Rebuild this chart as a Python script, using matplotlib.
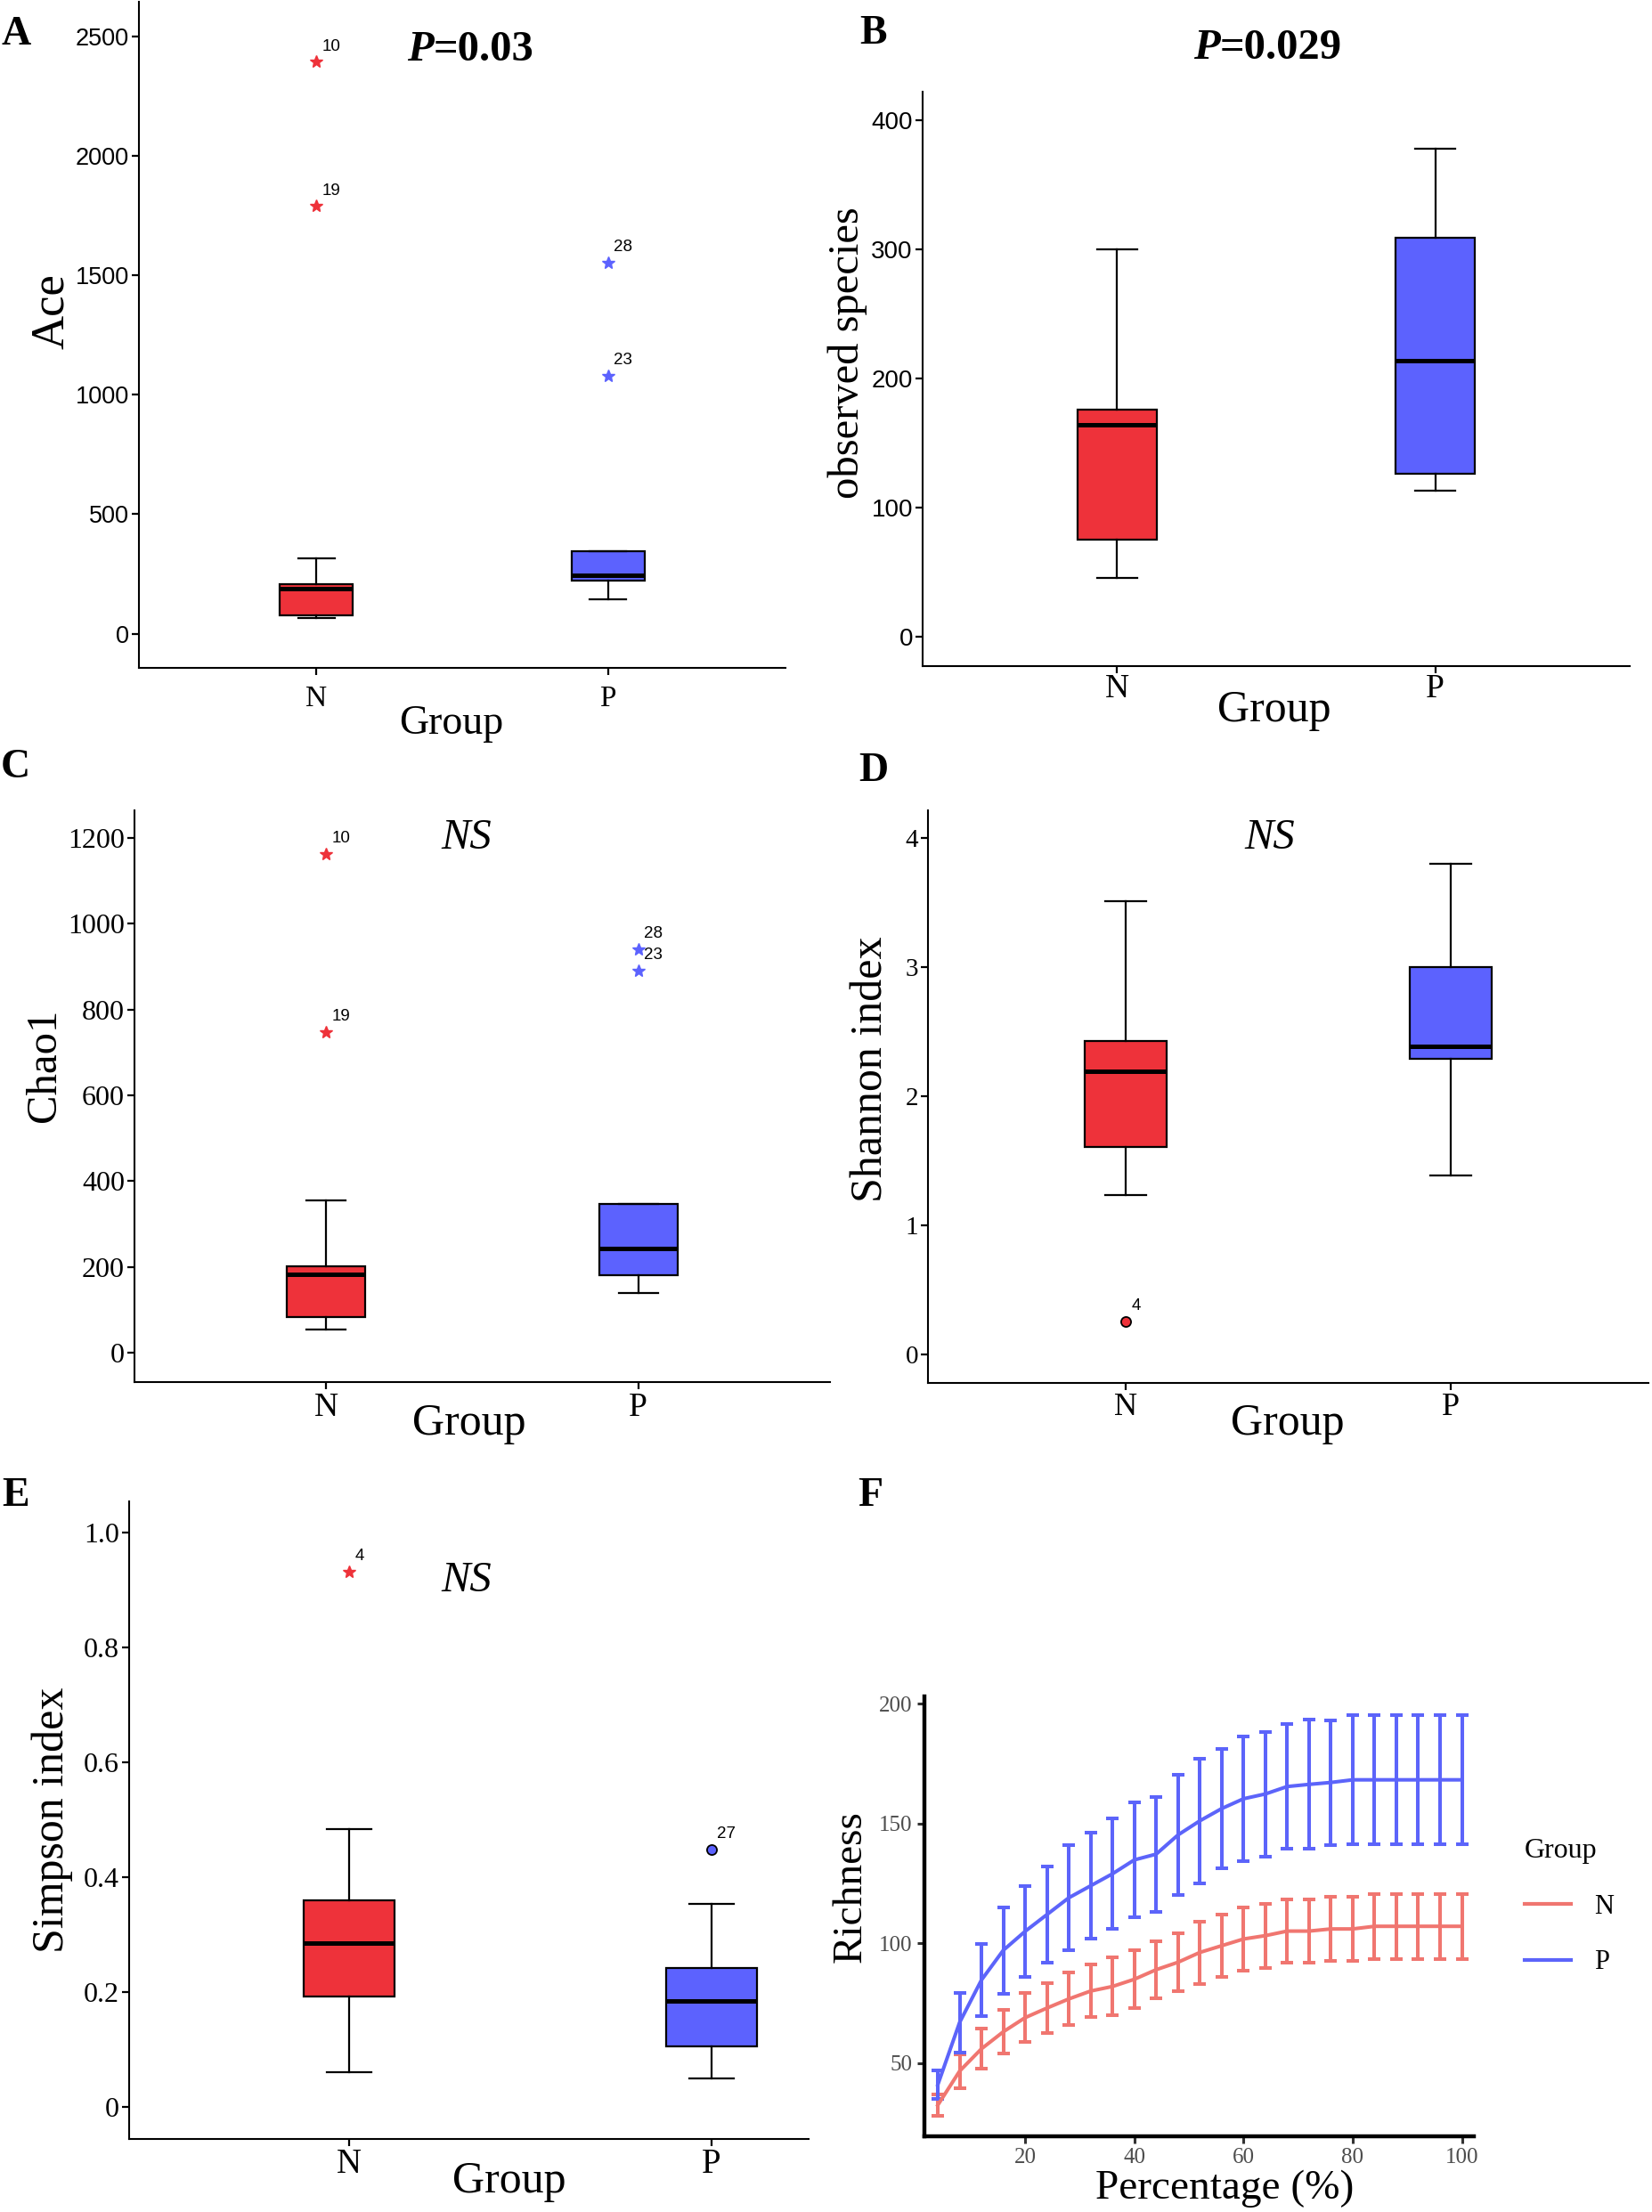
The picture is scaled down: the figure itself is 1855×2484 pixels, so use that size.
#!/usr/bin/env python3

import matplotlib
matplotlib.use("Agg")
import matplotlib.pyplot as plt
from matplotlib.lines import Line2D

W, H = 1856, 2484

groups = ["N", "P"]

# five-number summaries: low whisker, Q1, median, Q3, high whisker
ace_n = [67, 77, 190, 206, 317]
ace_p = [143, 224, 246, 345, 345]
ace_out_grp = ["N", "N", "P", "P"]
ace_out_val = [2393, 1789, 1551, 1078]
ace_out_id = ["10", "19", "28", "23"]
ace_out_kind = ["extreme", "extreme", "extreme", "extreme"]

obs_n = [45.6, 75.5, 164.5, 176, 300]
obs_p = [113, 126, 214, 309, 378]

chao_n = [54, 84, 183.5, 202, 355]
chao_p = [139, 180, 243, 347, 347]
chao_out_grp = ["N", "N", "P", "P"]
chao_out_val = [1163, 747, 940, 890]
chao_out_id = ["10", "19", "28", "23"]
chao_out_kind = ["extreme", "extreme", "extreme", "extreme"]

shannon_n = [1.238, 1.61, 2.195, 2.43, 3.51]
shannon_p = [1.39, 2.29, 2.39, 3.0, 3.80]
shannon_out_grp = ["N"]
shannon_out_val = [0.256]
shannon_out_id = ["4"]
shannon_out_kind = ["outlier"]

simpson_n = [0.060, 0.192, 0.285, 0.359, 0.484]
simpson_p = [0.049, 0.105, 0.185, 0.242, 0.354]
simpson_out_grp = ["N", "P"]
simpson_out_val = [0.932, 0.448]
simpson_out_id = ["4", "27"]
simpson_out_kind = ["extreme", "outlier"]

# rarefaction curves
pct = [4, 8, 12, 16, 20, 24, 28, 32, 36, 40, 44, 48, 52,
       56, 60, 64, 68, 72, 76, 80, 84, 88, 92, 96, 100]
rich_n = [32.5, 46.7, 56, 63.1, 69, 73, 76.8, 80.1, 82, 85, 89, 92.1, 96.2,
          99, 101.8, 103.2, 105.1, 105.1, 106, 106, 107.1, 107.1, 107.1, 107.1, 107.1]
rich_n_err = [4.5, 7, 8.3, 9.2, 10.2, 10.3, 11, 11, 12, 12, 12, 12, 13,
              13, 13.3, 13.4, 13.3, 13.3, 13.5, 13.5, 13.5, 13.5, 13.5, 13.5, 13.5]
rich_p = [41, 67, 84.7, 97.1, 105, 112, 119, 124, 129, 134.8, 137.2, 145.2, 151.1,
          156.2, 160.3, 162.3, 165.4, 166.3, 167.1, 168.2, 168.2, 168.2, 168.2, 168.2, 168.2]
rich_p_err = [6, 12.4, 15, 18, 19, 20, 22, 22, 23, 24, 24, 25, 26,
              25, 26, 26, 26, 27, 26, 27, 27, 27, 27, 27, 27]

BOX_COLORS = {"N": "#EE323A", "P": "#5C62FE"}
LINE_COLORS = {"N": "#F07670", "P": "#5C64FA"}

SERIF = "Liberation Serif"
SANS = "Liberation Sans"

plt.rcParams["font.family"] = SERIF


def fx(x):
    return x / W


def fy(y):
    return 1 - y / H


def px_axes(fig, left, top, right, bottom):
    return fig.add_axes([left / W, 1 - bottom / H, (right - left) / W, (bottom - top) / H])


def box_panel(ax, n, p, xlim, ylim, yticks, yticklabels, tick_family, tick_size, xtick_size, xpad,
              out_grp=(), out_val=(), out_id=(), out_kind=()):
    stats = []
    for g, v in zip(groups, [n, p]):
        stats.append(dict(whislo=v[0], q1=v[1], med=v[2], q3=v[3], whishi=v[4], label=g))
    arts = ax.bxp(stats, positions=[1, 2], widths=0.25, capwidths=0.125, patch_artist=True,
                  showfliers=False,
                  boxprops=dict(edgecolor="black", linewidth=1.6),
                  medianprops=dict(color="black", linewidth=3.6),
                  whiskerprops=dict(color="black", linewidth=1.6),
                  capprops=dict(color="black", linewidth=1.6))
    for patch, g in zip(arts["boxes"], groups):
        patch.set_facecolor(BOX_COLORS[g])

    for g, v, i, k in zip(out_grp, out_val, out_id, out_kind):
        xpos = groups.index(g) + 1
        if k == "extreme":
            ax.plot(xpos, v, marker="*", ms=10, color=BOX_COLORS[g], mec=BOX_COLORS[g], ls="none")
        else:
            ax.plot(xpos, v, marker="o", ms=8, color=BOX_COLORS[g], mec="black", mew=1.3, ls="none")
        ax.annotate(i, (xpos, v), xytext=(4.5, 12.5), textcoords="offset points",
                    family=SANS, fontsize=13.5, ha="left", va="center")

    ax.set_xlim(*xlim)
    ax.set_ylim(*ylim)
    ax.set_xticks([1, 2], groups)
    ax.set_yticks(yticks, yticklabels)
    for s in ["top", "right"]:
        ax.spines[s].set_visible(False)
    for s in ["left", "bottom"]:
        ax.spines[s].set_linewidth(1.5)
    ax.tick_params(axis="both", length=6, width=1.6, color="black")
    ax.tick_params(axis="y", labelfontfamily=tick_family, labelsize=tick_size, pad=2)
    ax.tick_params(axis="x", labelfontfamily=SERIF, labelsize=xtick_size, pad=xpad)


def main():
    fig = plt.figure(figsize=(W / 100, H / 100), dpi=100)

    # A: Ace
    ax_a = px_axes(fig, 156, 2, 882, 750)
    box_panel(ax_a, ace_n, ace_p, (0.391, 2.609), (-143, 2644),
              [0, 500, 1000, 1500, 2000, 2500], ["0", "500", "1000", "1500", "2000", "2500"],
              SANS, 19.5, 24, 8,
              ace_out_grp, ace_out_val, ace_out_id, ace_out_kind)

    # B: observed species
    ax_b = px_axes(fig, 1036, 103, 1830, 748)
    box_panel(ax_b, obs_n, obs_p, (0.388, 2.612), (-22.8, 422.4),
              [0, 100, 200, 300, 400], ["0", "100", "200", "300", "400"],
              SANS, 20, 27, 0)

    # C: Chao1
    ax_c = px_axes(fig, 151, 910, 932, 1552)
    box_panel(ax_c, chao_n, chao_p, (0.386, 2.614), (-68.5, 1264),
              [0, 200, 400, 600, 800, 1000, 1200],
              ["0", "200", "400", "600", "800", "1000", "1200"],
              SERIF, 23, 27, 2,
              chao_out_grp, chao_out_val, chao_out_id, chao_out_kind)

    # D: Shannon
    ax_d = px_axes(fig, 1042, 910, 1851, 1553)
    box_panel(ax_d, shannon_n, shannon_p, (0.392, 2.608), (-0.22, 4.214),
              [0, 1, 2, 3, 4], ["0", "1", "2", "3", "4"],
              SERIF, 21, 26, 2,
              shannon_out_grp, shannon_out_val, shannon_out_id, shannon_out_kind)

    # E: Simpson
    ax_e = px_axes(fig, 145, 1686, 908, 2402)
    box_panel(ax_e, simpson_n, simpson_p, (0.393, 2.268), (-0.056, 1.054),
              [0, 0.2, 0.4, 0.6, 0.8, 1.0], ["0", "0.2", "0.4", "0.6", "0.8", "1.0"],
              SERIF, 23, 28, 1,
              simpson_out_grp, simpson_out_val, simpson_out_id, simpson_out_kind)

    # F: rarefaction
    ax_f = px_axes(fig, 1038, 1905, 1655, 2399)
    for g, mean, err in [("N", rich_n, rich_n_err), ("P", rich_p, rich_p_err)]:
        ax_f.errorbar(pct, mean, yerr=err, color=LINE_COLORS[g], lw=2.9, elinewidth=2.9,
                      capsize=4.7, capthick=2.9)
    ax_f.set_xlim(1.55, 102.2)
    ax_f.set_ylim(19.5, 203)
    ax_f.set_xticks([20, 40, 60, 80, 100])
    ax_f.set_yticks([50, 100, 150, 200])
    for s in ["top", "right"]:
        ax_f.spines[s].set_visible(False)
    for s in ["left", "bottom"]:
        ax_f.spines[s].set_linewidth(3.2)
    ax_f.tick_params(axis="both", length=5.5, width=2.2, color="#333333",
                     labelcolor="#4D4D4D", labelsize=18, pad=4)
    handles = [Line2D([], [], color=LINE_COLORS[g], lw=3) for g in groups]
    ax_f.legend(handles, groups, title="Group", loc="upper left",
                bbox_to_anchor=(fx(1712), fy(2064)), bbox_transform=fig.transFigure,
                frameon=False, fontsize=22, title_fontsize=23, alignment="left",
                handlelength=1.7, handletextpad=0.85, labelspacing=1.1,
                borderpad=0, borderaxespad=0)

    # significance labels
    for ax, x_right, base, txt in [(ax_a, 487, 68, "=0.03"), (ax_b, 1370, 66, "=0.029")]:
        t = fig.text(fx(x_right), fy(base), "P", fontsize=35, fontweight="bold",
                     fontstyle="italic", ha="right", va="baseline")
        ax.annotate(txt, xy=(1, 0), xycoords=t, fontsize=35, fontweight="bold",
                    ha="left", va="bottom")
    for x, y in [(524, 941), (1426, 941), (524, 1775)]:
        fig.text(fx(x), fy(y), "NS", fontsize=35, fontstyle="italic", ha="center", va="center")

    # panel letters
    for letter, x, y in [("A", 18, 39), ("B", 980, 38), ("C", 17, 862),
                         ("D", 981, 866), ("E", 18, 1680), ("F", 977, 1680)]:
        fig.text(fx(x), fy(y), letter, fontsize=33, fontweight="bold", ha="center", va="center")

    # axis titles
    for txt, x, y, size in [("Ace", 58, 350, 38), ("observed species", 952, 396, 35),
                            ("Chao1", 50, 1196, 35), ("Shannon index", 978, 1201, 36),
                            ("Simpson index", 59, 2044, 36), ("Richness", 955, 2119, 34)]:
        fig.text(fx(x), fy(y), txt, fontsize=size, rotation=90, ha="center", va="center")
    for txt, x, y, size in [("Group", 507, 813, 33), ("Group", 1431, 798, 36),
                            ("Group", 527, 1599, 36), ("Group", 1446, 1599, 36),
                            ("Group", 572, 2450, 36), ("Percentage (%)", 1375, 2458, 34)]:
        fig.text(fx(x), fy(y), txt, fontsize=size, ha="center", va="center")

    fig.savefig("out.png", dpi=100)


if __name__ == "__main__":
    main()
